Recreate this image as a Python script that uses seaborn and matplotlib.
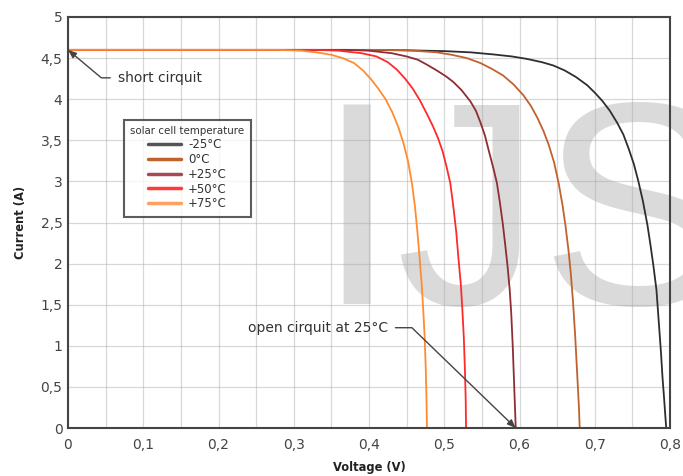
import numpy as np
import matplotlib
matplotlib.use('Agg')
import matplotlib.pyplot as plt
import matplotlib.ticker as mticker
import seaborn as sns
import pandas as pd

# I-V curves (voltage V, current A)
volt_m25 = [0, 0.40, 0.45, 0.50, 0.535, 0.565, 0.59, 0.61, 0.63, 0.645, 0.66, 0.675,
            0.69, 0.70, 0.71, 0.72, 0.73, 0.738, 0.745, 0.752, 0.758, 0.764, 0.77,
            0.774, 0.778, 0.782, 0.785, 0.788, 0.790, 0.792, 0.794, 0.795]
curr_m25 = [4.6, 4.6, 4.595, 4.585, 4.57, 4.545, 4.52, 4.49, 4.45, 4.41, 4.35, 4.27,
            4.17, 4.08, 3.98, 3.86, 3.71, 3.57, 3.40, 3.21, 3.0, 2.76, 2.47,
            2.23, 1.97, 1.68, 1.3, 0.92, 0.62, 0.38, 0.12, 0]

volt_0 = [0, 0.42, 0.46, 0.49, 0.51, 0.53, 0.548, 0.563, 0.578, 0.592, 0.605, 0.615,
          0.624, 0.632, 0.639, 0.646, 0.652, 0.657, 0.661, 0.665, 0.668, 0.671,
          0.674, 0.677, 0.679, 0.680]
curr_0 = [4.6, 4.6, 4.59, 4.57, 4.54, 4.50, 4.44, 4.37, 4.29, 4.18, 4.05, 3.92,
          3.77, 3.61, 3.44, 3.23, 2.98, 2.72, 2.47, 2.17, 1.9, 1.55,
          1.12, 0.6, 0.25, 0]

volt_25 = [0, 0.37, 0.40, 0.43, 0.45, 0.465, 0.477, 0.49, 0.502, 0.512, 0.523, 0.535,
           0.542, 0.548, 0.554, 0.559, 0.565, 0.570, 0.574, 0.578, 0.581, 0.584,
           0.587, 0.589, 0.591, 0.593, 0.595]
curr_25 = [4.6, 4.6, 4.59, 4.56, 4.52, 4.48, 4.42, 4.35, 4.28, 4.21, 4.11, 3.97,
           3.86, 3.72, 3.56, 3.38, 3.17, 2.98, 2.74, 2.47, 2.23, 1.98,
           1.68, 1.4, 1.0, 0.5, 0]

volt_50 = [0, 0.33, 0.36, 0.39, 0.41, 0.425, 0.437, 0.448, 0.458, 0.468, 0.477, 0.485,
           0.492, 0.498, 0.503, 0.508, 0.512, 0.516, 0.519, 0.522, 0.524, 0.526,
           0.5275, 0.5285, 0.529]
curr_50 = [4.6, 4.6, 4.59, 4.56, 4.52, 4.45, 4.36, 4.25, 4.13, 3.98, 3.82, 3.67,
           3.52, 3.36, 3.18, 2.98, 2.70, 2.38, 2.05, 1.75, 1.45, 1.1,
           0.7, 0.35, 0]

volt_75 = [0, 0.28, 0.31, 0.33, 0.35, 0.365, 0.38, 0.392, 0.403, 0.413, 0.422, 0.431,
           0.439, 0.446, 0.452, 0.457, 0.461, 0.464, 0.467, 0.470, 0.472, 0.474,
           0.4755, 0.4765, 0.477]
curr_75 = [4.6, 4.6, 4.59, 4.57, 4.54, 4.50, 4.44, 4.35, 4.24, 4.12, 4.0, 3.84,
           3.66, 3.46, 3.24, 2.98, 2.70, 2.42, 2.1, 1.75, 1.45, 1.1,
           0.7, 0.3, 0]

temps = ['-25°C', '0°C', '+25°C', '+50°C', '+75°C']
line_colors = ['#2e2e2e', '#c0622e', '#8e2d33', '#ff2a2a', '#ff8c30']
legend_colors = ['#555555', '#c0622e', '#a84a55', '#ff3a3a', '#ffa060']

curves = [(volt_m25, curr_m25), (volt_0, curr_0), (volt_25, curr_25),
          (volt_50, curr_50), (volt_75, curr_75)]
frames = []
for t, (v, c) in zip(temps, curves):
    frames.append(pd.DataFrame({'Voltage': v, 'Current': c, 'temp': t}))
df = pd.concat(frames, ignore_index=True)

sns.set_style('white')
plt.rcParams['font.family'] = ['DejaVu Sans']

fig = plt.figure(figsize=(6.83, 4.76), dpi=100)
fig.patch.set_facecolor('white')
ax = fig.add_axes([68/683, 48/476, 602/683, 411/476])
ax.set_facecolor('none')

# watermark behind everything
fig.text(316/683, (476-304)/476, 'IJS', fontsize=208, family='Liberation Sans',
         color='#dadada', va='baseline', ha='left', zorder=-1)

sns.lineplot(data=df, x='Voltage', y='Current', hue='temp', hue_order=temps,
             palette=dict(zip(temps, line_colors)), sort=False, estimator=None,
             lw=1.3, ax=ax)

ax.set_xlim(0, 0.8)
ax.set_ylim(0, 5)
ax.xaxis.set_major_locator(mticker.MultipleLocator(0.1))
ax.xaxis.set_minor_locator(mticker.MultipleLocator(0.05))
ax.yaxis.set_major_locator(mticker.MultipleLocator(0.5))
fmt = mticker.FuncFormatter(lambda v, p: f'{v:.2g}'.replace('.', ',') if v != 0 else '0')
ax.xaxis.set_major_formatter(fmt)
ax.yaxis.set_major_formatter(fmt)
ax.grid(True, which='both', axis='x', color='#a8a8a8', alpha=0.45, lw=0.9)
ax.grid(True, which='major', axis='y', color='#a8a8a8', alpha=0.45, lw=0.9)
ax.set_axisbelow(True)
ax.tick_params(which='both', length=0, labelsize=10, labelcolor='#444444')
ax.tick_params(axis='x', pad=7)
ax.tick_params(axis='y', pad=4)
for s in ax.spines.values():
    s.set_color('#444444')
    s.set_linewidth(1.5)

ax.set_xlabel('Voltage (V)', fontsize=8.3, fontweight='bold', color='#222222', labelpad=7)
ax.set_ylabel('Current (A)', fontsize=8.3, fontweight='bold', color='#222222', labelpad=10)

handles, labels = ax.get_legend_handles_labels()
leg = ax.legend(handles, labels, title='solar cell temperature', loc='upper left',
                bbox_to_anchor=((124-68)/602, (428-120)/411), borderaxespad=0,
                fontsize=8.5, title_fontsize=7.4, handlelength=2.8, handletextpad=0.6,
                labelspacing=0.15, frameon=True, fancybox=False, borderpad=0.55)
leg.get_frame().set_edgecolor('#333333')
leg.get_frame().set_linewidth(1.5)
leg.get_title().set_color('#333333')
for line, col in zip(leg.get_lines(), legend_colors):
    line.set_linewidth(2.5)
    line.set_color(col)
for txt in leg.get_texts():
    txt.set_color('#333333')

arrow_kw = dict(arrowstyle='-|>,head_length=0.5,head_width=0.2', color='#444444',
                lw=1.0, shrinkA=3, shrinkB=0)
ax.annotate('short cirquit', xy=(0, 4.6), xytext=(0.066, 4.26), fontsize=10,
            color='#333333', ha='left', va='center',
            arrowprops=dict(connectionstyle='angle,angleA=0,angleB=-40', **arrow_kw))
ax.annotate('open cirquit at 25°C', xy=(0.595, 0), xytext=(0.239, 1.22), fontsize=10,
            color='#333333', ha='left', va='center',
            arrowprops=dict(connectionstyle='angle,angleA=0,angleB=136', **arrow_kw))

fig.savefig('out.png', dpi=100)
